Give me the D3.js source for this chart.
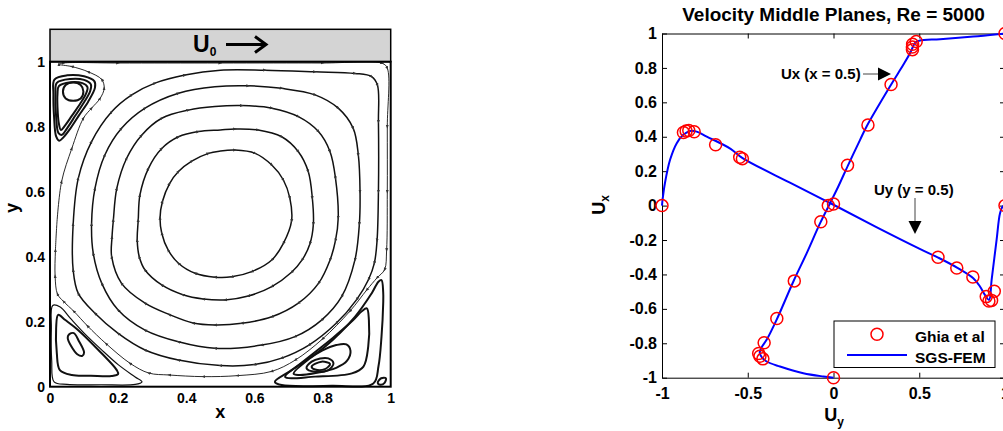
<!DOCTYPE html>
<html>
<head>
<meta charset="utf-8">
<script src="https://cdn.jsdelivr.net/npm/d3@7"></script>
<style>
    body { margin: 0; background: #fff; }
    svg { display: block; font-family: "Liberation Sans", Arial, sans-serif; font-weight: bold; }
</style>
</head>
<body>
<svg id="chart" width="1003" height="431"></svg>
<script>
//---------- left panel: streamlines (cavity coords 0..1) ----------

//primary vortex, outer to inner (listed in flow direction, clockwise on screen)
const primaryC1 = [[0.02, 0.5], [0.034, 0.631], [0.064, 0.733], [0.098, 0.826], [0.122, 0.857], [0.147, 0.887],
    [0.159, 0.918], [0.152, 0.945], [0.112, 0.969], [0.064, 0.985], [0.026, 0.992], [0.04, 0.996], [0.2, 0.996],
    [0.5, 0.996], [0.8, 0.996], [0.975, 0.995], [0.99, 0.98], [0.99, 0.8], [0.99, 0.6], [0.988, 0.42],
    [0.982, 0.36], [0.96, 0.335], [0.93, 0.298], [0.88, 0.232], [0.8, 0.147], [0.72, 0.082], [0.65, 0.047],
    [0.55, 0.034], [0.45, 0.031], [0.35, 0.036], [0.29, 0.042], [0.235, 0.072], [0.165, 0.132], [0.11, 0.187],
    [0.07, 0.232], [0.04, 0.262], [0.022, 0.285], [0.015, 0.34], [0.016, 0.42], [0.02, 0.5]];
const primaryC2 = [[0.396, 0.959], [0.5, 0.974], [0.631, 0.974], [0.778, 0.969], [0.895, 0.964], [0.944, 0.954],
    [0.961, 0.928], [0.964, 0.815], [0.964, 0.6], [0.96, 0.45], [0.952, 0.38], [0.935, 0.33], [0.9, 0.268],
    [0.84, 0.195], [0.76, 0.128], [0.68, 0.088], [0.6, 0.068], [0.5, 0.065], [0.377, 0.082], [0.279, 0.113],
    [0.2, 0.164], [0.132, 0.226], [0.083, 0.287], [0.068, 0.359], [0.068, 0.5], [0.083, 0.641], [0.122, 0.754],
    [0.181, 0.846], [0.24, 0.898], [0.308, 0.934]];
const primaryC3 = [[0.377, 0.903], [0.484, 0.923], [0.582, 0.926], [0.68, 0.918], [0.778, 0.898], [0.846, 0.857],
    [0.89, 0.795], [0.905, 0.713], [0.91, 0.6], [0.908, 0.5], [0.895, 0.39], [0.856, 0.277], [0.797, 0.205],
    [0.719, 0.154], [0.621, 0.128], [0.484, 0.118], [0.377, 0.138], [0.279, 0.174], [0.2, 0.236], [0.152, 0.318],
    [0.127, 0.41], [0.122, 0.5], [0.132, 0.61], [0.161, 0.713], [0.21, 0.795], [0.279, 0.857]];
const primaryC4 = [[0.406, 0.851], [0.484, 0.862], [0.563, 0.865], [0.651, 0.857], [0.729, 0.831], [0.788, 0.785],
    [0.822, 0.723], [0.838, 0.641], [0.846, 0.52], [0.838, 0.45], [0.822, 0.39], [0.788, 0.318], [0.729, 0.257],
    [0.651, 0.215], [0.563, 0.195], [0.484, 0.19], [0.42, 0.196], [0.35, 0.222], [0.279, 0.257], [0.21, 0.318],
    [0.181, 0.4], [0.182, 0.46], [0.186, 0.513], [0.196, 0.61], [0.225, 0.703], [0.269, 0.774], [0.328, 0.826]];
const primaryC5 = [[0.435, 0.785], [0.5, 0.79], [0.543, 0.793], [0.611, 0.79], [0.68, 0.769], [0.729, 0.723],
    [0.758, 0.662], [0.77, 0.58], [0.773, 0.5], [0.763, 0.44], [0.74, 0.39], [0.709, 0.352], [0.651, 0.308],
    [0.582, 0.279], [0.514, 0.267], [0.45, 0.27], [0.39, 0.283], [0.328, 0.313], [0.279, 0.359], [0.262, 0.4],
    [0.256, 0.451], [0.259, 0.513], [0.264, 0.59], [0.289, 0.672], [0.328, 0.733], [0.377, 0.769]];
const primaryC6 = [[0.465, 0.718], [0.5, 0.725], [0.543, 0.728], [0.602, 0.718], [0.651, 0.682], [0.685, 0.636],
    [0.704, 0.58], [0.709, 0.51], [0.685, 0.441], [0.651, 0.39], [0.592, 0.354], [0.533, 0.338], [0.484, 0.337],
    [0.426, 0.349], [0.377, 0.38], [0.347, 0.42], [0.328, 0.472], [0.323, 0.52], [0.33, 0.57], [0.351, 0.625],
    [0.377, 0.662], [0.416, 0.694]];

//top left corner eddy
const topLeft1 = [[0.013, 0.945], [0.05, 0.958], [0.1, 0.955], [0.13, 0.94], [0.132, 0.92], [0.112, 0.877],
    [0.085, 0.835], [0.06, 0.795], [0.04, 0.768], [0.027, 0.757], [0.018, 0.77], [0.012, 0.83], [0.01, 0.9]];
const topLeft2 = [[0.02, 0.935], [0.06, 0.947], [0.1, 0.944], [0.12, 0.93], [0.118, 0.91], [0.1, 0.875],
    [0.075, 0.835], [0.05, 0.795], [0.035, 0.775], [0.025, 0.78], [0.018, 0.83], [0.016, 0.9]];
const topLeft3 = [[0.026, 0.925], [0.06, 0.937], [0.095, 0.934], [0.11, 0.922], [0.105, 0.9], [0.088, 0.87],
    [0.065, 0.835], [0.045, 0.805], [0.032, 0.79], [0.026, 0.81], [0.022, 0.86], [0.022, 0.9]];
const topLeft4 = [[0.068, 0.936], [0.09, 0.928], [0.098, 0.908], [0.09, 0.887], [0.068, 0.88], [0.046, 0.887],
    [0.038, 0.908], [0.046, 0.928]];

//bottom left corner eddy
const bottomLeft1 = [[0.008, 0.25], [0.03, 0.245], [0.06, 0.21], [0.1, 0.165], [0.15, 0.115], [0.2, 0.068],
    [0.25, 0.03], [0.27, 0.015], [0.25, 0.007], [0.15, 0.006], [0.05, 0.007], [0.012, 0.015], [0.005, 0.08],
    [0.004, 0.18]];
const bottomLeft2 = [[0.024, 0.221], [0.045, 0.205], [0.083, 0.174], [0.142, 0.113], [0.196, 0.051], [0.2, 0.039],
    [0.181, 0.033], [0.12, 0.034], [0.064, 0.036], [0.029, 0.051], [0.02, 0.103], [0.018, 0.18]];
const bottomLeft3 = [[0.055, 0.16], [0.07, 0.165], [0.085, 0.14], [0.1, 0.105], [0.095, 0.095], [0.08, 0.1],
    [0.062, 0.125], [0.052, 0.15]];

//bottom right corner eddy
const bottomRight1 = [[0.964, 0.323], [0.973, 0.328], [0.978, 0.29], [0.978, 0.257], [0.973, 0.154], [0.964, 0.062],
    [0.949, 0.01], [0.827, 0.003], [0.68, 0.005], [0.66, 0.015], [0.709, 0.051], [0.807, 0.123], [0.895, 0.215],
    [0.944, 0.287]];
const bottomRight2 = [[0.915, 0.232], [0.93, 0.241], [0.936, 0.205], [0.934, 0.123], [0.92, 0.062], [0.886, 0.041],
    [0.778, 0.031], [0.69, 0.03], [0.74, 0.075], [0.83, 0.15], [0.89, 0.205]];
const bottomRight3 = [[0.715, 0.04], [0.76, 0.085], [0.8, 0.112], [0.84, 0.128], [0.87, 0.13], [0.882, 0.11],
    [0.872, 0.08], [0.84, 0.058], [0.78, 0.042], [0.73, 0.036]];
const bottomRight4 = [[0.793, 0.087], [0.817, 0.087], [0.832, 0.072], [0.817, 0.051], [0.778, 0.046], [0.753, 0.057],
    [0.768, 0.077]];
const bottomRight5 = [[0.768, 0.062], [0.797, 0.077], [0.822, 0.07], [0.807, 0.054], [0.778, 0.053]];
const cornerTiny = [[0.962, 0.012], [0.972, 0.026], [0.986, 0.026], [0.982, 0.012], [0.97, 0.006]];

const cavityTicks = [0, 0.2, 0.4, 0.6, 0.8, 1];

//---------- right panel: velocity on the middle planes ----------

//Ghia et al, Re = 5000: u on x = 0.5 plotted as (u, 2y-1)
const ghiaUx = [[1.0, 1.0], [0.4822, 0.9532], [0.4612, 0.9376], [0.4599, 0.9218], [0.4604, 0.9062],
    [0.3356, 0.7032], [0.2009, 0.4688], [0.0818, 0.2344], [-0.0304, 0.0], [-0.074, -0.0938],
    [-0.2286, -0.4374], [-0.3305, -0.6562], [-0.4044, -0.7968], [-0.4364, -0.8594],
    [-0.429, -0.875], [-0.4117, -0.8906], [0.0, -1.0]];
//v on y = 0.5 plotted as (2x-1, v)
const ghiaUy = [[1.0, 0.0], [0.9376, -0.4977], [0.9218, -0.5507], [0.9062, -0.5541], [0.8906, -0.5288],
    [0.8126, -0.4144], [0.7188, -0.3621], [0.6094, -0.3002], [0.0, 0.0095], [-0.5312, 0.2728],
    [-0.5468, 0.2807], [-0.6874, 0.3537], [-0.8124, 0.4295], [-0.8438, 0.4365],
    [-0.8594, 0.4333], [-0.875, 0.4245], [-1.0, 0.0]];

//SGS-FEM curves
const femUx = [[0.0, -1.0], [-0.059, -0.993], [-0.176, -0.974], [-0.312, -0.935], [-0.39, -0.906], [-0.42, -0.878],
    [-0.43, -0.855], [-0.42, -0.825], [-0.39, -0.78], [-0.332, -0.664], [-0.234, -0.441], [-0.156, -0.276],
    [-0.078, -0.102], [-0.02, 0.014], [0.028, 0.111], [0.086, 0.237], [0.155, 0.382], [0.193, 0.46],
    [0.329, 0.692], [0.407, 0.818], [0.446, 0.885], [0.462, 0.92], [0.475, 0.945], [0.5, 0.958],
    [0.621, 0.967], [0.815, 0.982], [0.971, 0.997], [1.0, 1.0]];
const femUy = [[-1.0, 0.0], [-0.996, 0.04], [-0.983, 0.13], [-0.953, 0.266], [-0.914, 0.363], [-0.876, 0.411],
    [-0.837, 0.434], [-0.798, 0.43], [-0.739, 0.401], [-0.6, 0.33], [-0.53, 0.276], [-0.254, 0.133],
    [0.0, 0.005], [0.25, -0.125], [0.5, -0.25], [0.61, -0.302], [0.72, -0.36], [0.815, -0.422],
    [0.854, -0.47], [0.883, -0.519], [0.907, -0.548], [0.922, -0.431], [0.951, -0.199], [0.971, -0.044],
    [0.987, -0.005], [1.0, 0.0]];

const velXTicks = [-1, -0.5, 0, 0.5, 1];
const velYTicks = [-1, -0.8, -0.6, -0.4, -0.2, 0, 0.2, 0.4, 0.6, 0.8, 1];


var svg = d3.select("#chart");

//arrow head used on the primary streamlines
svg.append("defs").append("marker")
    .attr("id", "flow")
    .attr("viewBox", "-2 -2 4 4")
    .attr("markerWidth", 4)
    .attr("markerHeight", 4)
    .attr("markerUnits", "userSpaceOnUse")
    .attr("orient", "auto")
    .append("path")
    .attr("d", "M-2,-1.5L2,0L-2,1.5Z")
    .attr("fill", "#333");


//---------- left panel ----------
var xL = d3.scaleLinear().domain([0, 1]).range([50, 390.7]);
var yL = d3.scaleLinear().domain([0, 1]).range([386.7, 61.7]);

let left = svg.append("g").attr("id", "cavity");

//moving lid
left.append("rect")
    .attr("x", xL(0))
    .attr("y", 29.3)
    .attr("width", xL(1) - xL(0))
    .attr("height", yL(1) - 29.3)
    .attr("fill", "#d4d4d4")
    .attr("stroke", "#000")
    .attr("stroke-width", 1.5);

let lidLabel = left.append("text")
    .attr("x", 193)
    .attr("y", 51.7)
    .attr("font-size", 23);
lidLabel.append("tspan").text("U");
lidLabel.append("tspan").attr("font-size", 12).attr("dy", 4).text("0");

left.append("line")
    .attr("x1", 226).attr("x2", 265)
    .attr("y1", 44.5).attr("y2", 44.5)
    .attr("stroke", "#000")
    .attr("stroke-width", 3);
left.append("path")
    .attr("d", "M255,36.5L266,44.5L255,52.5")
    .attr("fill", "none")
    .attr("stroke", "#000")
    .attr("stroke-width", 3);

var closedLine = d3.line()
    .x(d => xL(d[0]))
    .y(d => yL(d[1]))
    .curve(d3.curveCatmullRomClosed);

var openLine = d3.line()
    .x(d => xL(d[0]))
    .y(d => yL(d[1]))
    .curve(d3.curveCatmullRom);

//primary vortex
left.append("path")
    .attr("d", openLine(primaryC1))
    .attr("fill", "none")
    .attr("stroke", "#111")
    .attr("stroke-width", 0.9)
    .attr("marker-mid", "url(#flow)");

left.selectAll(".primary")
    .data([primaryC2, primaryC3, primaryC4, primaryC5, primaryC6])
    .enter().append("path")
    .attr("class", "primary")
    .attr("d", d => closedLine(d))
    .attr("fill", "none")
    .attr("stroke", "#111")
    .attr("stroke-width", 1.5)
    .attr("marker-mid", "url(#flow)");

//secondary eddies
left.selectAll(".eddy")
    .data([topLeft1, topLeft2, topLeft3, topLeft4, bottomLeft1, bottomLeft2, bottomLeft3,
        bottomRight1, bottomRight2, bottomRight3, bottomRight4, bottomRight5, cornerTiny])
    .enter().append("path")
    .attr("class", "eddy")
    .attr("d", d => closedLine(d))
    .attr("fill", "none")
    .attr("stroke", "#111")
    .attr("stroke-width", (d, i) => (i == 4 ? 1.2 : 2));

//frame
left.append("rect")
    .attr("x", xL(0))
    .attr("y", yL(1))
    .attr("width", xL(1) - xL(0))
    .attr("height", yL(0) - yL(1))
    .attr("fill", "none")
    .attr("stroke", "#000")
    .attr("stroke-width", 2);

//axes, labels only
left.append("g")
    .attr("transform", `translate(0,${yL(0)})`)
    .call(d3.axisBottom(xL).tickValues(cavityTicks).tickSize(0).tickPadding(6.5).tickFormat(d => String(d)))
    .call(g => g.select(".domain").remove())
    .selectAll("text")
    .attr("font-size", 14)
    .attr("font-family", "Liberation Sans, Arial, sans-serif")
    .attr("font-weight", "bold");

left.append("g")
    .attr("transform", `translate(${xL(0)},0)`)
    .call(d3.axisLeft(yL).tickValues(cavityTicks).tickSize(0).tickPadding(5).tickFormat(d => String(d)))
    .call(g => g.select(".domain").remove())
    .selectAll("text")
    .attr("font-size", 14)
    .attr("font-family", "Liberation Sans, Arial, sans-serif")
    .attr("font-weight", "bold");

left.append("text")
    .attr("x", xL(0.5))
    .attr("y", 418)
    .attr("text-anchor", "middle")
    .attr("font-size", 18)
    .text("x");

left.append("text")
    .attr("transform", "translate(18,208) rotate(-90)")
    .attr("text-anchor", "middle")
    .attr("font-size", 18)
    .text("y");


//---------- right panel ----------
var xR = d3.scaleLinear().domain([-1, 1]).range([662, 1005]);
var yR = d3.scaleLinear().domain([-1, 1]).range([377.7, 33.5]);

let right = svg.append("g").attr("id", "profiles");

right.append("text")
    .attr("x", 833.5)
    .attr("y", 21)
    .attr("text-anchor", "middle")
    .attr("font-size", 19)
    .text("Velocity Middle Planes, Re = 5000");

//axes with inward ticks on all four sides
function styleAxis(g) {
    g.selectAll("text")
        .attr("font-size", 16)
        .attr("font-family", "Liberation Sans, Arial, sans-serif")
        .attr("font-weight", "bold")
        .attr("fill", "#000");
    g.selectAll("line").attr("stroke", "#000");
    g.select(".domain").attr("stroke", "#000");
}

right.append("g")
    .attr("transform", `translate(0,${yR(-1)})`)
    .call(d3.axisBottom(xR).tickValues(velXTicks).tickSizeInner(-5).tickSizeOuter(0).tickPadding(9.5).tickFormat(d => String(d)))
    .call(styleAxis);

right.append("g")
    .attr("transform", `translate(${xR(-1)},0)`)
    .call(d3.axisLeft(yR).tickValues(velYTicks).tickSizeInner(-5).tickSizeOuter(0).tickPadding(5).tickFormat(d => String(d)))
    .call(styleAxis);

right.append("g")
    .attr("transform", `translate(0,${yR(1)})`)
    .call(d3.axisTop(xR).tickValues(velXTicks).tickSizeInner(-5).tickSizeOuter(0).tickFormat(""))
    .call(styleAxis);

right.append("g")
    .attr("transform", `translate(${xR(1)},0)`)
    .call(d3.axisRight(yR).tickValues(velYTicks).tickSizeInner(-5).tickSizeOuter(0).tickFormat(""))
    .call(styleAxis);

//axis titles
let yTitle = right.append("text")
    .attr("transform", "translate(605,205) rotate(-90)")
    .attr("text-anchor", "middle")
    .attr("font-size", 18);
yTitle.append("tspan").text("U");
yTitle.append("tspan").attr("font-size", 12).attr("dy", 4).text("x");

let xTitle = right.append("text")
    .attr("x", 834)
    .attr("y", 421)
    .attr("text-anchor", "middle")
    .attr("font-size", 18);
xTitle.append("tspan").text("U");
xTitle.append("tspan").attr("font-size", 12).attr("dy", 5).text("y");

//SGS-FEM lines
var velLine = d3.line()
    .x(d => xR(d[0]))
    .y(d => yR(d[1]))
    .curve(d3.curveCatmullRom);

right.selectAll(".fem")
    .data([femUx, femUy])
    .enter().append("path")
    .attr("class", "fem")
    .attr("d", d => velLine(d))
    .attr("fill", "none")
    .attr("stroke", "#0000ff")
    .attr("stroke-width", 2);

//Ghia et al markers
right.append("g")
    .selectAll("circle")
    .data(ghiaUx.concat(ghiaUy))
    .enter().append("circle")
    .attr("cx", d => xR(d[0]))
    .attr("cy", d => yR(d[1]))
    .attr("r", 6)
    .attr("fill", "none")
    .attr("stroke", "#ff0000")
    .attr("stroke-width", 1.5);

//annotations
right.append("text")
    .attr("x", 781)
    .attr("y", 79)
    .attr("font-size", 15)
    .text("Ux (x = 0.5)");
right.append("line")
    .attr("x1", 863).attr("x2", 880)
    .attr("y1", 74).attr("y2", 74)
    .attr("stroke", "#444")
    .attr("stroke-width", 1);
right.append("path")
    .attr("d", "M878,67.5L891,74L878,80.5Z")
    .attr("fill", "#000");

right.append("text")
    .attr("x", 874)
    .attr("y", 195)
    .attr("font-size", 15)
    .text("Uy (y = 0.5)");
right.append("line")
    .attr("x1", 915).attr("x2", 915)
    .attr("y1", 198).attr("y2", 223)
    .attr("stroke", "#444")
    .attr("stroke-width", 1);
right.append("path")
    .attr("d", "M908.5,221L915,234L921.5,221Z")
    .attr("fill", "#000");

//legend
let legend = right.append("g").attr("class", "legend");
legend.append("rect")
    .attr("x", 834).attr("y", 321)
    .attr("width", 161).attr("height", 46.5)
    .attr("fill", "#fff")
    .attr("stroke", "#000")
    .attr("stroke-width", 1);
legend.append("circle")
    .attr("cx", 877).attr("cy", 334.3)
    .attr("r", 6)
    .attr("fill", "none")
    .attr("stroke", "#ff0000")
    .attr("stroke-width", 1.5);
legend.append("line")
    .attr("x1", 847).attr("x2", 907)
    .attr("y1", 355).attr("y2", 355)
    .attr("stroke", "#0000ff")
    .attr("stroke-width", 2);
legend.append("text")
    .attr("x", 915).attr("y", 341.5)
    .attr("font-size", 15.5)
    .text("Ghia et al");
legend.append("text")
    .attr("x", 915).attr("y", 362.5)
    .attr("font-size", 15.5)
    .text("SGS-FEM");
</script>
</body>
</html>
